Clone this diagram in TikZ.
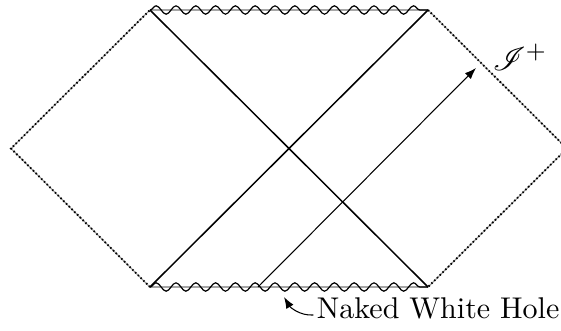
\documentclass[tikz,border=0pt]{standalone}
\usepackage{mathrsfs}
\usetikzlibrary{decorations.pathmorphing,arrows.meta}
\begin{document}
\begin{tikzpicture}[x=0.33333pt,y=-0.33333pt,
  singular/.style={decorate,decoration={snake,amplitude=1.4pt,segment length=6.6pt},line width=0.4pt},
  singbase/.style={gray!70,line width=0.4pt},
  scri/.style={line width=0.6pt,dash pattern=on 0.5pt off 0.8pt},
  scribase/.style={gray!80,line width=0.35pt},
  horizon/.style={line width=0.5pt},
  ray/.style={line width=0.35pt,-{Latex[length=3.8pt,width=2.8pt]}},
  pointer/.style={line width=0.35pt,-{Latex[length=3.8pt,width=2.8pt]}},
  lbl/.style={inner sep=0pt}]
\useasboundingbox (0,0) rectangle (561,331);
\coordinate (L)  at (11,148.5);
\coordinate (TL) at (150,10);
\coordinate (TR) at (428,10);
\coordinate (R)  at (567,148.5);
\coordinate (BR) at (428,287);
\coordinate (BL) at (150,287);
% null infinity edges
\draw[scribase] (BL) -- (L) -- (TL) (TR) -- (R) -- (BR);
\draw[scri] (BL) -- (L) -- (TL) (TR) -- (R) -- (BR);
% singularities
\draw[singbase] (TL) -- (TR) (BL) -- (BR);
\draw[singular] (TL) -- (TR);
\draw[singular] (BL) -- (BR);
% horizons
\draw[horizon] (TL) -- (BR) (TR) -- (BL);
% light ray
\coordinate (rs) at (258,287);
\coordinate (re) at (476,68);
\draw[ray] (rs) -- (re);
% labels
\node[lbl,font=\fontsize{11.2}{13}\selectfont] (scrip) at (520,57) {$\mathscr{I}^+$};
\node[lbl,anchor=base east] (nwh) at (560,318) {Naked White Hole};
\coordinate (pt) at ([xshift=-1pt,yshift=1pt]nwh.base west);
\coordinate (ph) at (284,297);
\draw[pointer] (pt) .. controls (300,316) and (290,307) .. (ph);
\end{tikzpicture}
\end{document}
